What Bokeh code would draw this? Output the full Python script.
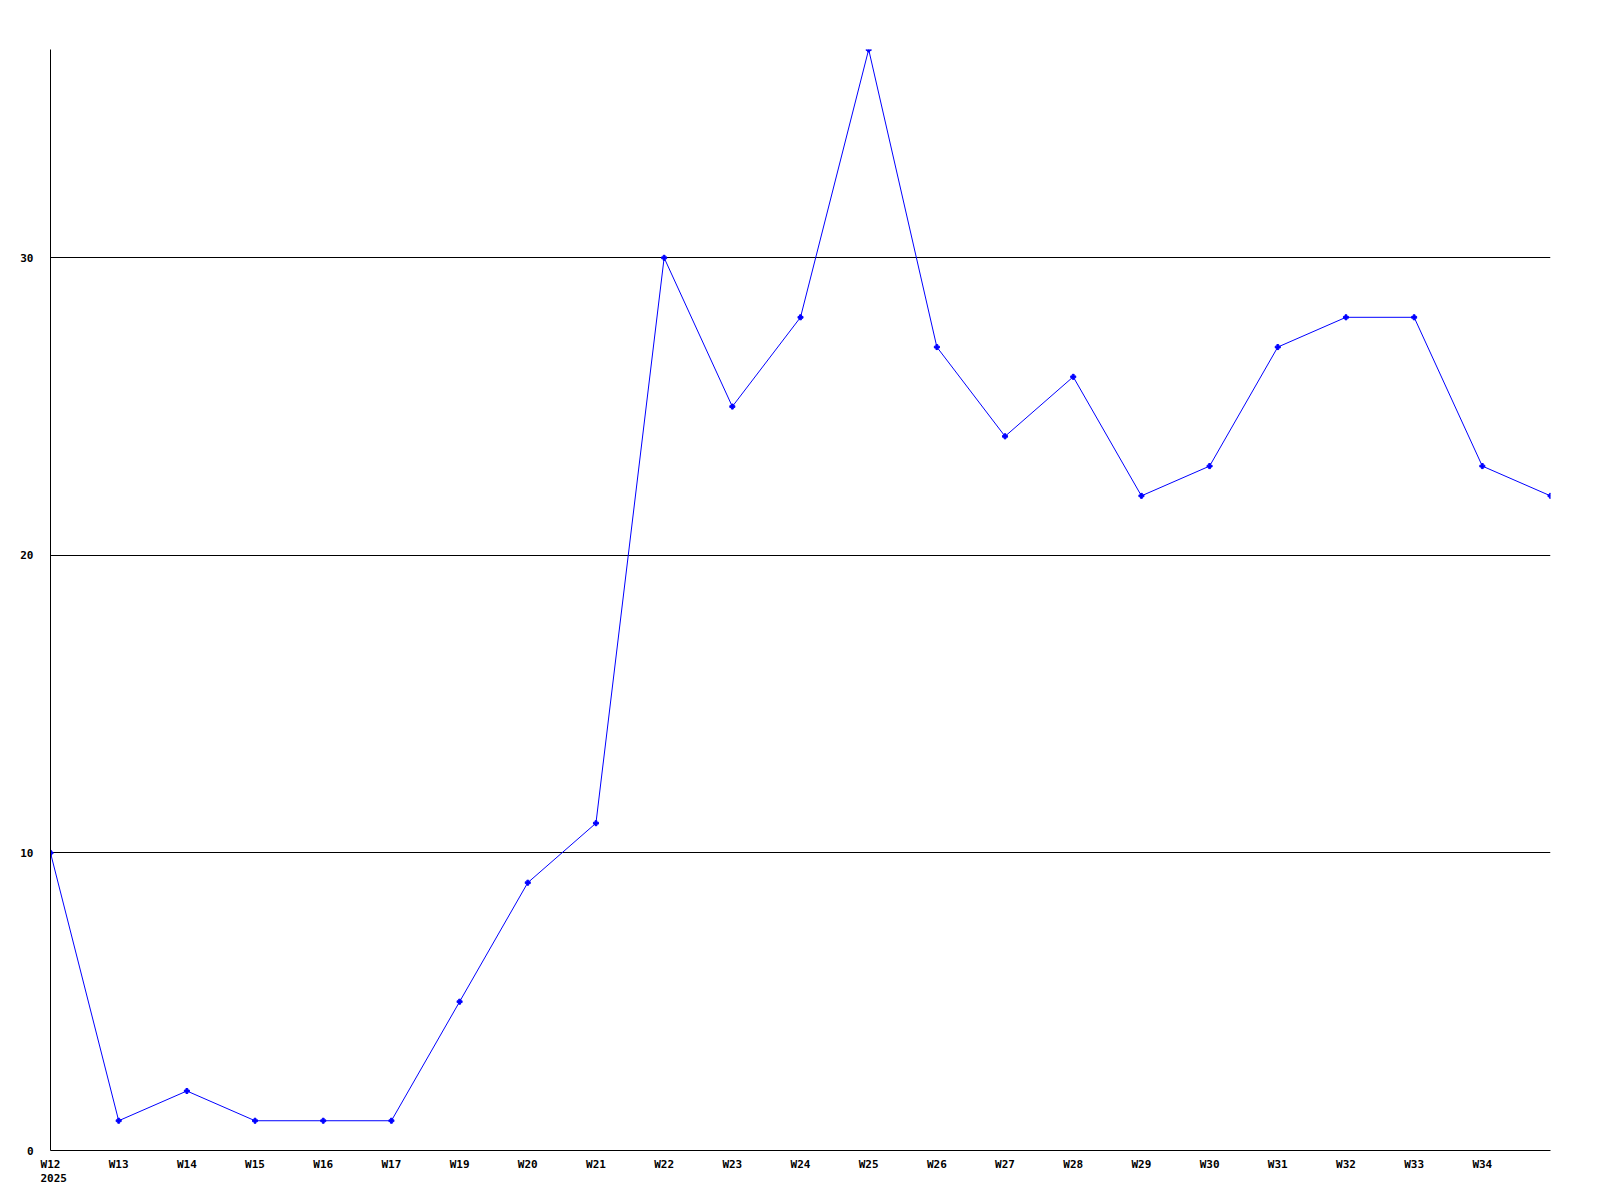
from bokeh.plotting import figure
from bokeh.models import Range1d, FixedTicker, Title
from bokeh.embed import file_html
from bokeh.resources import INLINE

# Data
week_labels = ["W12", "W13", "W14", "W15", "W16", "W17", "W19", "W20", "W21", "W22", "W23",
               "W24", "W25", "W26", "W27", "W28", "W29", "W30", "W31", "W32", "W33", "W34"]
values = [10, 1, 2, 1, 1, 1, 5, 9, 11, 30, 25, 28, 37, 27, 24, 26, 22, 23, 27, 28, 28, 23, 22]
year_label = "2025"
y_ticks = [0, 10, 20, 30]

xs = list(range(len(values)))
FONT = "DejaVu Sans Mono"

p = figure(width=1584, height=1184, output_backend="svg", toolbar_location=None,
           x_range=Range1d(0, len(values) - 1), y_range=Range1d(0, 37),
           min_border_left=50, min_border_right=34, min_border_top=49, min_border_bottom=34)
p.outline_line_color = None
p.background_fill_color = "white"
p.border_fill_color = "white"

p.line(xs, values, line_color="#0000ff", line_width=1)
p.scatter(xs, values, marker="plus", size=5, color="#0000ff")

# X axis
p.xaxis.ticker = FixedTicker(ticks=list(range(len(week_labels))))
p.xaxis.major_label_overrides = {i: lab for i, lab in enumerate(week_labels)}
p.xaxis.major_label_text_font = FONT
p.xaxis.major_label_text_font_style = "bold"
p.xaxis.major_label_text_font_size = "11px"
p.xaxis.major_label_text_color = "black"
p.xaxis.major_label_standoff = 7
p.xaxis.major_tick_out = 0
p.xaxis.major_tick_in = 0
p.xaxis.minor_tick_out = 0
p.xaxis.minor_tick_in = 0
p.xaxis.axis_line_color = "black"

# Y axis
p.yaxis.ticker = FixedTicker(ticks=y_ticks)
p.yaxis.major_label_overrides = {t: str(t) for t in y_ticks}
p.yaxis.major_label_text_font = FONT
p.yaxis.major_label_text_font_style = "bold"
p.yaxis.major_label_text_font_size = "11px"
p.yaxis.major_label_text_color = "black"
p.yaxis.major_label_standoff = 17
p.yaxis.major_tick_out = 0
p.yaxis.major_tick_in = 0
p.yaxis.minor_tick_out = 0
p.yaxis.minor_tick_in = 0
p.yaxis.axis_line_color = "black"

p.xgrid.grid_line_color = None
p.ygrid.ticker = FixedTicker(ticks=y_ticks)
p.ygrid.grid_line_color = "black"
p.ygrid.grid_line_alpha = 1.0

p.add_layout(Title(text=year_label, align="left", offset=-10, standoff=-3,
                   text_font=FONT, text_font_style="bold", text_font_size="11px",
                   text_color="black"), "below")

open("out.html", "w").write(file_html(p, INLINE))
